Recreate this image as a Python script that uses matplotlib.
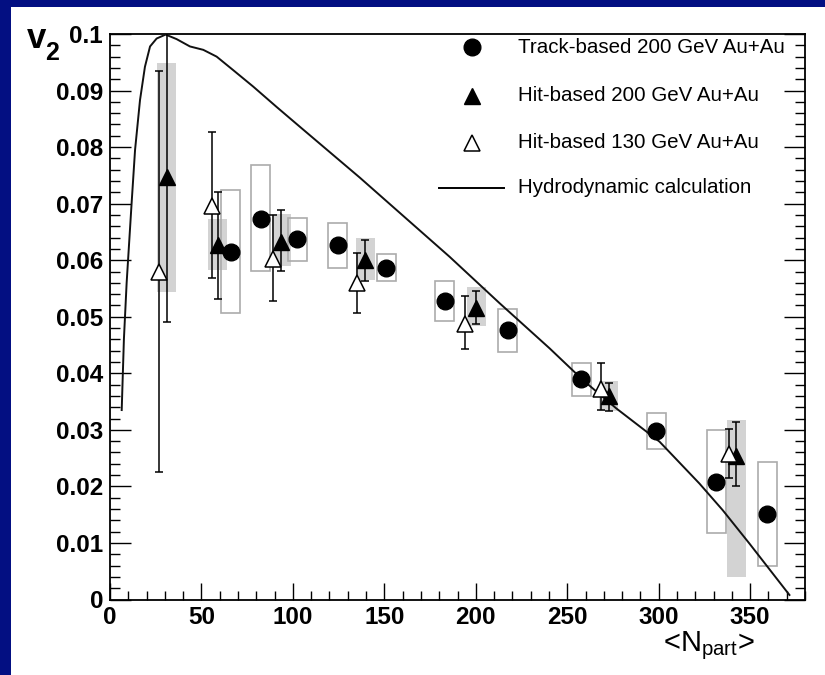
import numpy as np
import matplotlib.pyplot as plt
from matplotlib.patches import Rectangle
from matplotlib.ticker import MultipleLocator, FixedLocator, FixedFormatter

plt.rcParams['font.family'] = ['Liberation Sans', 'DejaVu Sans']
plt.rcParams['mathtext.fontset'] = 'custom'
plt.rcParams['mathtext.rm'] = 'Liberation Sans'

#### TRACK-BASED 200 GeV (circles, open syst. boxes) ####
trk_npart = [66.1, 82.5, 102.5, 124.4, 151.1, 183.0, 217.6, 257.7, 298.6, 331.4, 359.3]
trk_v2 = [0.0614, 0.0673, 0.0637, 0.0627, 0.0587, 0.0528, 0.0477, 0.0390, 0.0298, 0.0208, 0.0152]
trk_sys_lo = [0.0507, 0.0581, 0.0599, 0.0587, 0.0563, 0.0493, 0.0437, 0.0360, 0.0267, 0.0117, 0.0059]
trk_sys_hi = [0.0724, 0.0768, 0.0675, 0.0666, 0.0611, 0.0563, 0.0513, 0.0419, 0.0329, 0.0300, 0.0244]

#### HIT-BASED 200 GeV (filled triangles, grey syst. boxes) ####
hit200_npart = [31.0, 58.8, 93.6, 139.5, 200.2, 272.7, 342.5]
hit200_v2 = [0.0748, 0.0627, 0.0633, 0.0600, 0.0515, 0.0359, 0.0254]
hit200_err_lo = [0.0490, 0.0531, 0.0581, 0.0564, 0.0487, 0.0333, 0.0200]
hit200_err_hi = [0.1010, 0.0721, 0.0689, 0.0636, 0.0546, 0.0382, 0.0314]
hit200_sys_lo = [0.0544, 0.0583, 0.0589, 0.0565, 0.0484, 0.0333, 0.0040]
hit200_sys_hi = [0.0948, 0.0672, 0.0682, 0.0640, 0.0552, 0.0387, 0.0317]

#### HIT-BASED 130 GeV (open triangles) ####
hit130_npart = [26.8, 55.5, 89.2, 135.1, 194.3, 268.6, 338.7]
hit130_v2 = [0.0579, 0.0696, 0.0603, 0.0559, 0.0488, 0.0373, 0.0257]
hit130_err_lo = [0.0226, 0.0569, 0.0528, 0.0507, 0.0443, 0.0335, 0.0215]
hit130_err_hi = [0.0935, 0.0826, 0.0680, 0.0612, 0.0537, 0.0419, 0.0302]

#### HYDRODYNAMIC CALCULATION ####
hydro_npart = [6.4, 7.6, 9.1, 11.8, 13.7, 16.4, 19.1, 21.9, 25.5, 30.4, 36.4, 43.7,
               51.0, 58.3, 67.4, 78.3, 91.1, 103.8, 136.6, 185.7, 213.0, 240.4,
               258.6, 276.8, 300.5, 322.3, 335.0, 349.6, 371.5]
hydro_v2 = [0.0335, 0.0460, 0.0560, 0.0700, 0.0795, 0.0883, 0.0942, 0.0978, 0.0992,
            0.0999, 0.0991, 0.0978, 0.0972, 0.0960, 0.0936, 0.0907, 0.0871, 0.0836,
            0.0746, 0.0606, 0.0524, 0.0444, 0.0388, 0.0338, 0.0279, 0.0205, 0.0158,
            0.0099, 0.0008]

xticks = [0, 50, 100, 150, 200, 250, 300, 350]
xtick_labels = ['0', '50', '100', '150', '200', '250', '300', '350']
yticks = [0, 0.01, 0.02, 0.03, 0.04, 0.05, 0.06, 0.07, 0.08, 0.09, 0.1]
ytick_labels = ['0', '0.01', '0.02', '0.03', '0.04', '0.05', '0.06', '0.07', '0.08', '0.09', '0.1']

legend_labels = ['Track-based 200 GeV Au+Au', 'Hit-based 200 GeV Au+Au',
                 'Hit-based 130 GeV Au+Au', 'Hydrodynamic calculation']

W, H = 825, 675
BOX_HW = 5.2  # half width of syst. boxes in Npart
TRI_MS = 11.5

fig = plt.figure(figsize=(W / 100, H / 100), dpi=100, facecolor='#030f82')
fig.patches.append(Rectangle((11 / W, 0), 1 - 11 / W, 1 - 7 / H, transform=fig.transFigure,
                             facecolor='white', edgecolor='none', zorder=-10))

ax = fig.add_axes([110 / W, 1 - 599.5 / H, 695 / W, 565.5 / H])
ax.set_xlim(0, 380)
ax.set_ylim(0, 0.1)

# systematic boxes
for x, lo, hi in zip(hit200_npart, hit200_sys_lo, hit200_sys_hi):
    ax.add_patch(Rectangle((x - BOX_HW, lo), 2 * BOX_HW, hi - lo,
                           facecolor='#d3d3d3', edgecolor='none', zorder=1))
for x, lo, hi in zip(trk_npart, trk_sys_lo, trk_sys_hi):
    ax.add_patch(Rectangle((x - BOX_HW, lo), 2 * BOX_HW, hi - lo,
                           facecolor='none', edgecolor='#ababab', lw=1.2, zorder=2))

ax.plot(hydro_npart, hydro_v2, color='#111111', lw=1.4, zorder=3)

ax.plot(trk_npart, trk_v2, 'o', ms=12, mfc='black', mec='black', zorder=5)

v = np.array(hit200_v2)
ax.errorbar(hit200_npart, v, yerr=[v - np.array(hit200_err_lo), np.array(hit200_err_hi) - v],
            fmt='^', ms=TRI_MS, mfc='black', mec='black', ecolor='black',
            elinewidth=1.1, capsize=3, capthick=1.1, zorder=6)

v = np.array(hit130_v2)
ax.errorbar(hit130_npart, v, yerr=[v - np.array(hit130_err_lo), np.array(hit130_err_hi) - v],
            fmt='^', ms=TRI_MS, mfc='white', mec='black', mew=1.1, ecolor='black',
            elinewidth=1.1, capsize=3, capthick=1.1, zorder=6)

#### AXES STYLE ####
for s in ax.spines.values():
    s.set_linewidth(1.3)
ax.xaxis.set_major_locator(FixedLocator(xticks))
ax.xaxis.set_major_formatter(FixedFormatter(xtick_labels))
ax.xaxis.set_minor_locator(MultipleLocator(10))
ax.yaxis.set_major_locator(FixedLocator(yticks))
ax.yaxis.set_major_formatter(FixedFormatter(ytick_labels))
ax.yaxis.set_minor_locator(MultipleLocator(0.002))
ax.tick_params(which='both', direction='in', top=False, right=True, width=1)
ax.tick_params(axis='y', which='major', length=15, pad=5)
ax.tick_params(axis='y', which='minor', length=7)
ax.tick_params(axis='x', which='major', length=12, pad=5)
ax.tick_params(axis='x', which='minor', length=6.5)
for lab in ax.get_xticklabels() + ax.get_yticklabels():
    lab.set_fontweight('bold')
    lab.set_fontsize(17.5)

# axis titles
fig.text(27 / W, 1 - 48 / H, 'v', fontsize=25, fontweight='bold', va='baseline')
fig.text(45.5 / W, 1 - 60 / H, '2', fontsize=18, fontweight='bold', va='baseline')
fig.text(755 / W, 1 - 651.5 / H, r'<N$_{\mathrm{part}}$>', fontsize=21, ha='right', va='baseline')

#### LEGEND ####
lx = 0.5204
rows = [0.977, 0.891, 0.808, 0.728]
ax.plot([lx], [rows[0]], 'o', ms=12, mfc='black', mec='black', transform=ax.transAxes, clip_on=False)
ax.plot([lx], [rows[1]], '^', ms=TRI_MS, mfc='black', mec='black', transform=ax.transAxes, clip_on=False)
ax.plot([lx], [rows[2]], '^', ms=TRI_MS, mfc='white', mec='black', mew=1.1, transform=ax.transAxes, clip_on=False)
ax.plot([0.4734, 0.5673], [rows[3], rows[3]], color='black', lw=1.4, transform=ax.transAxes)
for r, t in zip(rows, legend_labels):
    ax.text(0.5871, r, t, fontsize=14.8, va='center', ha='left', transform=ax.transAxes)

fig.savefig('out.png', dpi=100, facecolor=fig.get_facecolor())
